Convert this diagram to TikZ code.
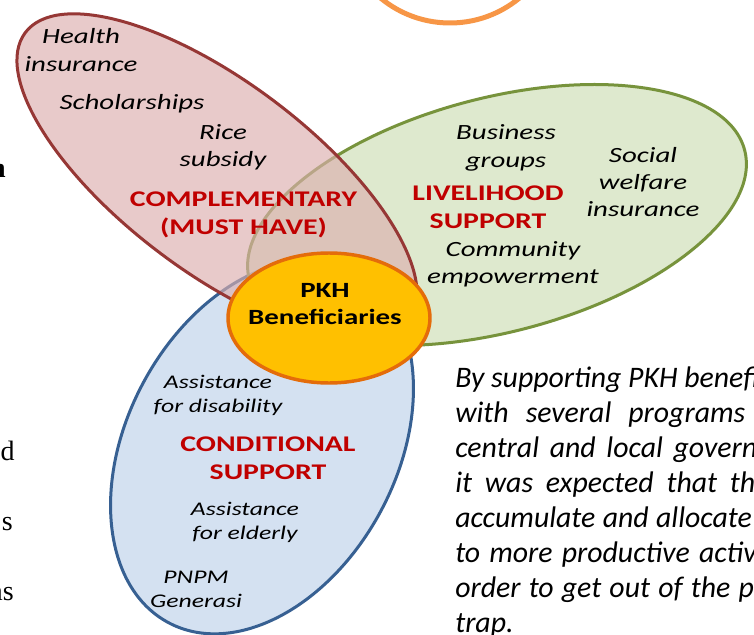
\documentclass[tikz,border=0pt]{standalone}
\usepackage{fontspec}
\setmainfont{Carlito}
\newfontfamily\lab[FakeStretch=1.33]{Carlito}
\newfontfamily\bodyfont{Carlito}
\newfontfamily\serifcut{Liberation Serif}
\usetikzlibrary{shapes.geometric}
\definecolor{redfill}{RGB}{220,175,175}
\definecolor{redline}{RGB}{150,55,53}
\definecolor{greenfill}{RGB}{205,222,180}
\definecolor{greenline}{RGB}{119,147,60}
\definecolor{bluefill}{RGB}{189,209,235}
\definecolor{blueline}{RGB}{55,96,146}
\definecolor{corefill}{RGB}{255,192,0}
\definecolor{coreline}{RGB}{228,108,10}
\definecolor{topline}{RGB}{247,150,70}
\definecolor{labred}{RGB}{192,0,0}
\begin{document}
\begin{tikzpicture}[x=0.75pt,y=-0.75pt,
  ell/.style={ellipse, inner sep=0pt, outer sep=0pt, line width=2.25pt, fill opacity=0.65, draw opacity=1},
  item/.style={font=\lab\itshape\fontsize{16.3}{20.5}\selectfont, align=center, inner sep=0pt},
  smallitem/.style={font=\lab\itshape\fontsize{14.5}{18}\selectfont, align=center, inner sep=0pt},
  head/.style={font=\lab\bfseries\fontsize{16.8}{21}\selectfont, text=labred, align=center, inner sep=0pt},
  para/.style={font=\bodyfont\itshape\fontsize{22.35}{26}\selectfont, anchor=base west, inner sep=0pt},
  cut/.style={font=\serifcut\fontsize{21}{25}\selectfont, anchor=base east, inner sep=0pt}]
\useasboundingbox (0,0) rectangle (754,635);
\fill[white] (0,0) rectangle (754,635);
% top orange circle
\node[circle, draw=topline, line width=3.75pt, minimum size=163.5pt, inner sep=0pt] (topc) at (450,-86) {};
% ellipses
\node[ell, draw=blueline, fill=bluefill, minimum width=298.5pt, minimum height=202.5pt, rotate=62] (cond) at (262,447) {};
\node[ell, draw=greenline, fill=greenfill, minimum width=384pt, minimum height=175.5pt, rotate=14.7] (live) at (497,215) {};
\node[ell, draw=redline, fill=redfill, minimum width=360pt, minimum height=142.5pt, rotate=-37] (comp) at (217,177) {};
\node[ellipse, draw=coreline, fill=corefill, line width=2.6pt, minimum width=151.5pt, minimum height=97.5pt, inner sep=0pt] (core) at (329,318) {};
% complementary
\node[item] (health) at (81,50) {Health\\insurance};
\node[item] (schol) at (132,104) {Scholarships};
\node[item] (rice) at (223,147) {Rice\\subsidy};
\node[head] (comph) at (243.5,215) {COMPLEMENTARY\\(MUST HAVE)};
% core
\node[font=\lab\bfseries\fontsize{16.3}{20}\selectfont, align=center, inner sep=0pt] (corel) at (325,304) {PKH\\Beneficiaries};
% livelihood
\node[item] (bus) at (506,148) {Business\\groups};
\node[item] (soc) at (643,182) {Social\\welfare\\insurance};
\node[head] (liveh) at (488,207) {LIVELIHOOD\\SUPPORT};
\node[item] (commu) at (513,264) {Community\\empowerment};
% conditional
\node[smallitem] (disab) at (218,395) {Assistance\\for disability};
\node[head] (condh) at (268,458) {CONDITIONAL\\SUPPORT};
\node[smallitem] (elder) at (245,522) {Assistance\\for elderly};
\node[smallitem] (pnpm) at (196,589) {PNPM\\Generasi};
% paragraph on the right (cut by the page edge, as in the reference)
\node[para] (p1) at (455,387) {By supporting PKH benefi};
\node[para] (p2) at (455,422) {\makebox[217.5pt][s]{with several programs}};
\node[para] (p3) at (455,457) {\makebox[226.5pt][s]{central and local govern}};
\node[para] (p4) at (455,492) {\makebox[225pt][s]{it was expected that th}};
\node[para] (p5) at (455,527) {\makebox[222.5pt][s]{accumulate and allocate}};
\node[para] (p6) at (455,562) {\makebox[226pt][s]{to more productive activ}};
\node[para] (p7) at (455,597) {\makebox[224pt][s]{order to get out of the p}};
\node[para] (p8) at (455,632) {trap.};
% fragments of the text on the left
\node[cut, font=\serifcut\bfseries\fontsize{21}{25}\selectfont] (f1) at (6,177) {n};
\node[cut] (f2) at (15,460) {d};
\node[cut] (f3) at (13,530) {s};
\node[cut] (f4) at (14,600) {as};
\end{tikzpicture}
\end{document}
